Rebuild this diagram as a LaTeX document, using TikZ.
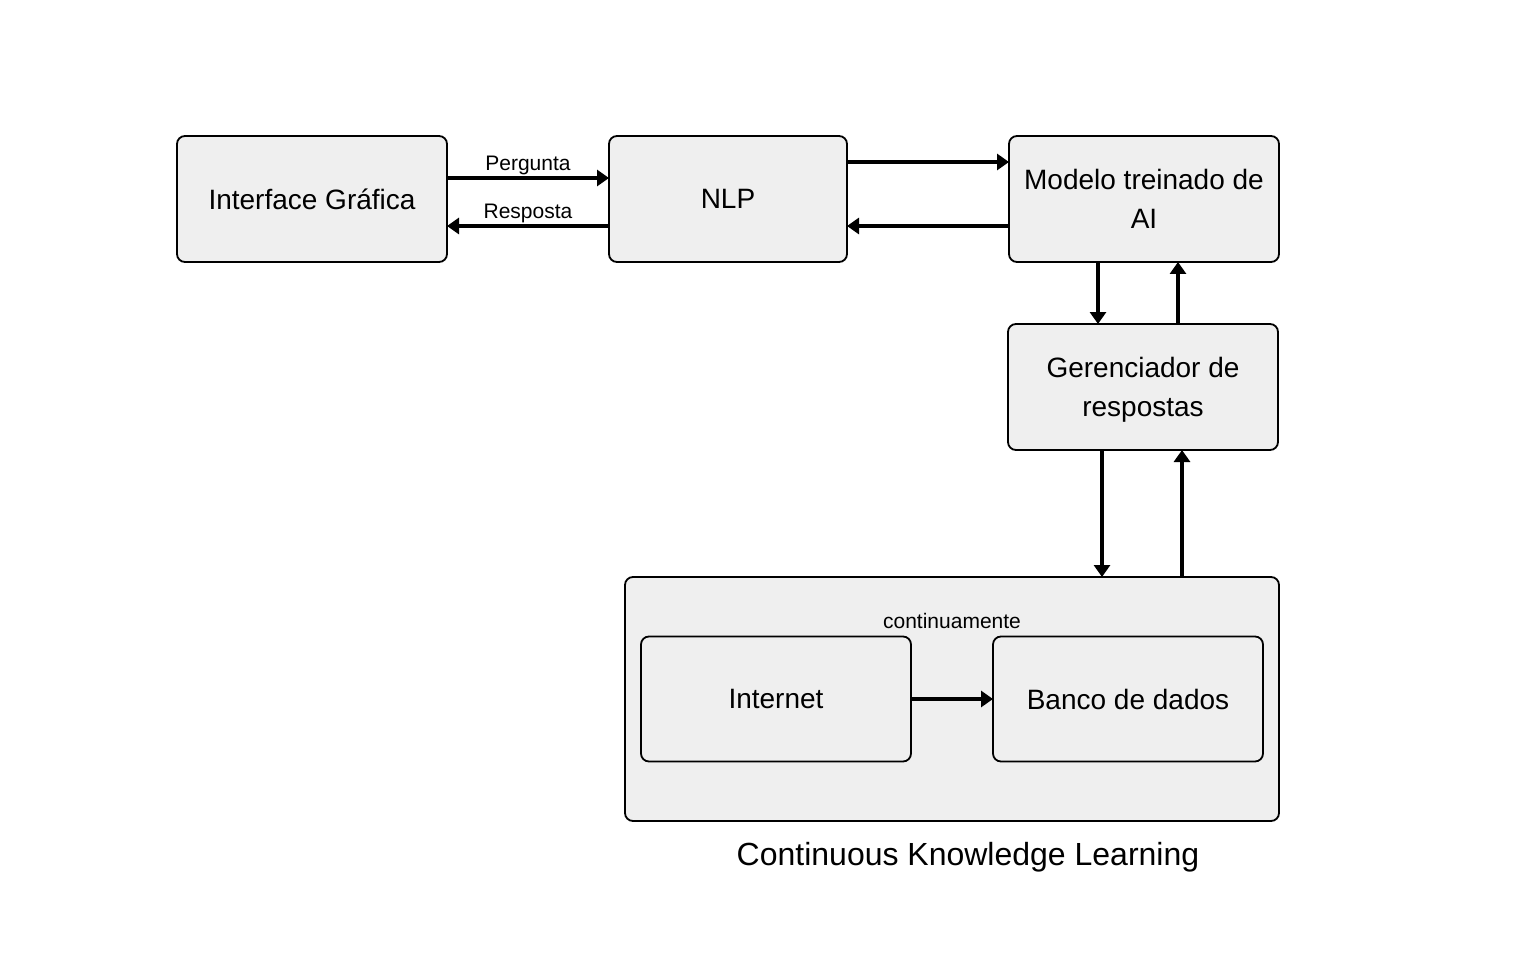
\documentclass[tikz,border=0pt]{standalone}
\usepackage{fontspec}
\setmainfont{Liberation Sans}
\usepackage{tikz}
\usetikzlibrary{arrows.meta}
\definecolor{boxgray}{HTML}{EFEFEF}

\begin{document}
\begin{tikzpicture}[x=1pt, y=-1pt,
    box/.style={draw, line width=1.8pt, rounded corners=8pt, fill=boxgray, inner sep=0pt, outer sep=0pt,
        minimum width=270pt, minimum height=126pt, align=center, font=\fontsize{28}{39}\selectfont},
    conn/.style={-{Triangle[length=12pt, width=16pt]}, line width=3.4pt},
    lbl/.style={font=\fontsize{21}{25}\selectfont}]
    \useasboundingbox (0,0) rectangle (1536,976);

    % Top row
    \node (gui) at (312,199) [box] {Interface Gráfica};
    \node (nlp) at (728,199) [box, minimum width=238pt] {NLP};
    \node (model) at (1144,199) [box] {Modelo treinado de\\AI};

    % Response manager
    \node (manager) at (1143,387) [box] {Gerenciador de\\\raisebox{0pt}[\height][0pt]{respostas}};

    % Continuous Knowledge Learning
    \node (ckl) at (952,699) [box, minimum width=654pt, minimum height=244pt] {};
    \node (internet) at (776,699) [box, minimum height=125pt] {Internet};
    \node (db) at (1128,699) [box, minimum height=125pt] {Banco de dados};
    \node at (952,621) [lbl] {continuamente};
    \node (ckltitle) at (968,857) [font=\fontsize{32}{38}\selectfont] {Continuous Knowledge Learning};

    % Connections
    \draw[conn] ([yshift=21pt]gui.east) -- ([yshift=21pt]nlp.west) node[midway, above=-2pt, lbl] {Pergunta};
    \draw[conn] ([yshift=-27pt]nlp.west) -- ([yshift=-27pt]gui.east) node[midway, above=-2pt, lbl] {Resposta};
    \draw[conn] ([yshift=37pt]nlp.east) -- ([yshift=37pt]model.west);
    \draw[conn] ([yshift=-27pt]model.west) -- ([yshift=-27pt]nlp.east);
    \draw[conn] ([xshift=-46pt]model.south) -- ([xshift=-45pt]manager.north);
    \draw[conn] ([xshift=35pt]manager.north) -- ([xshift=34pt]model.south);
    \draw[conn] ([xshift=-41pt]manager.south) -- (1102,577);
    \draw[conn] (1182,577) -- ([xshift=39pt]manager.south);
    \draw[conn] (internet) -- (db);
\end{tikzpicture}
\end{document}
